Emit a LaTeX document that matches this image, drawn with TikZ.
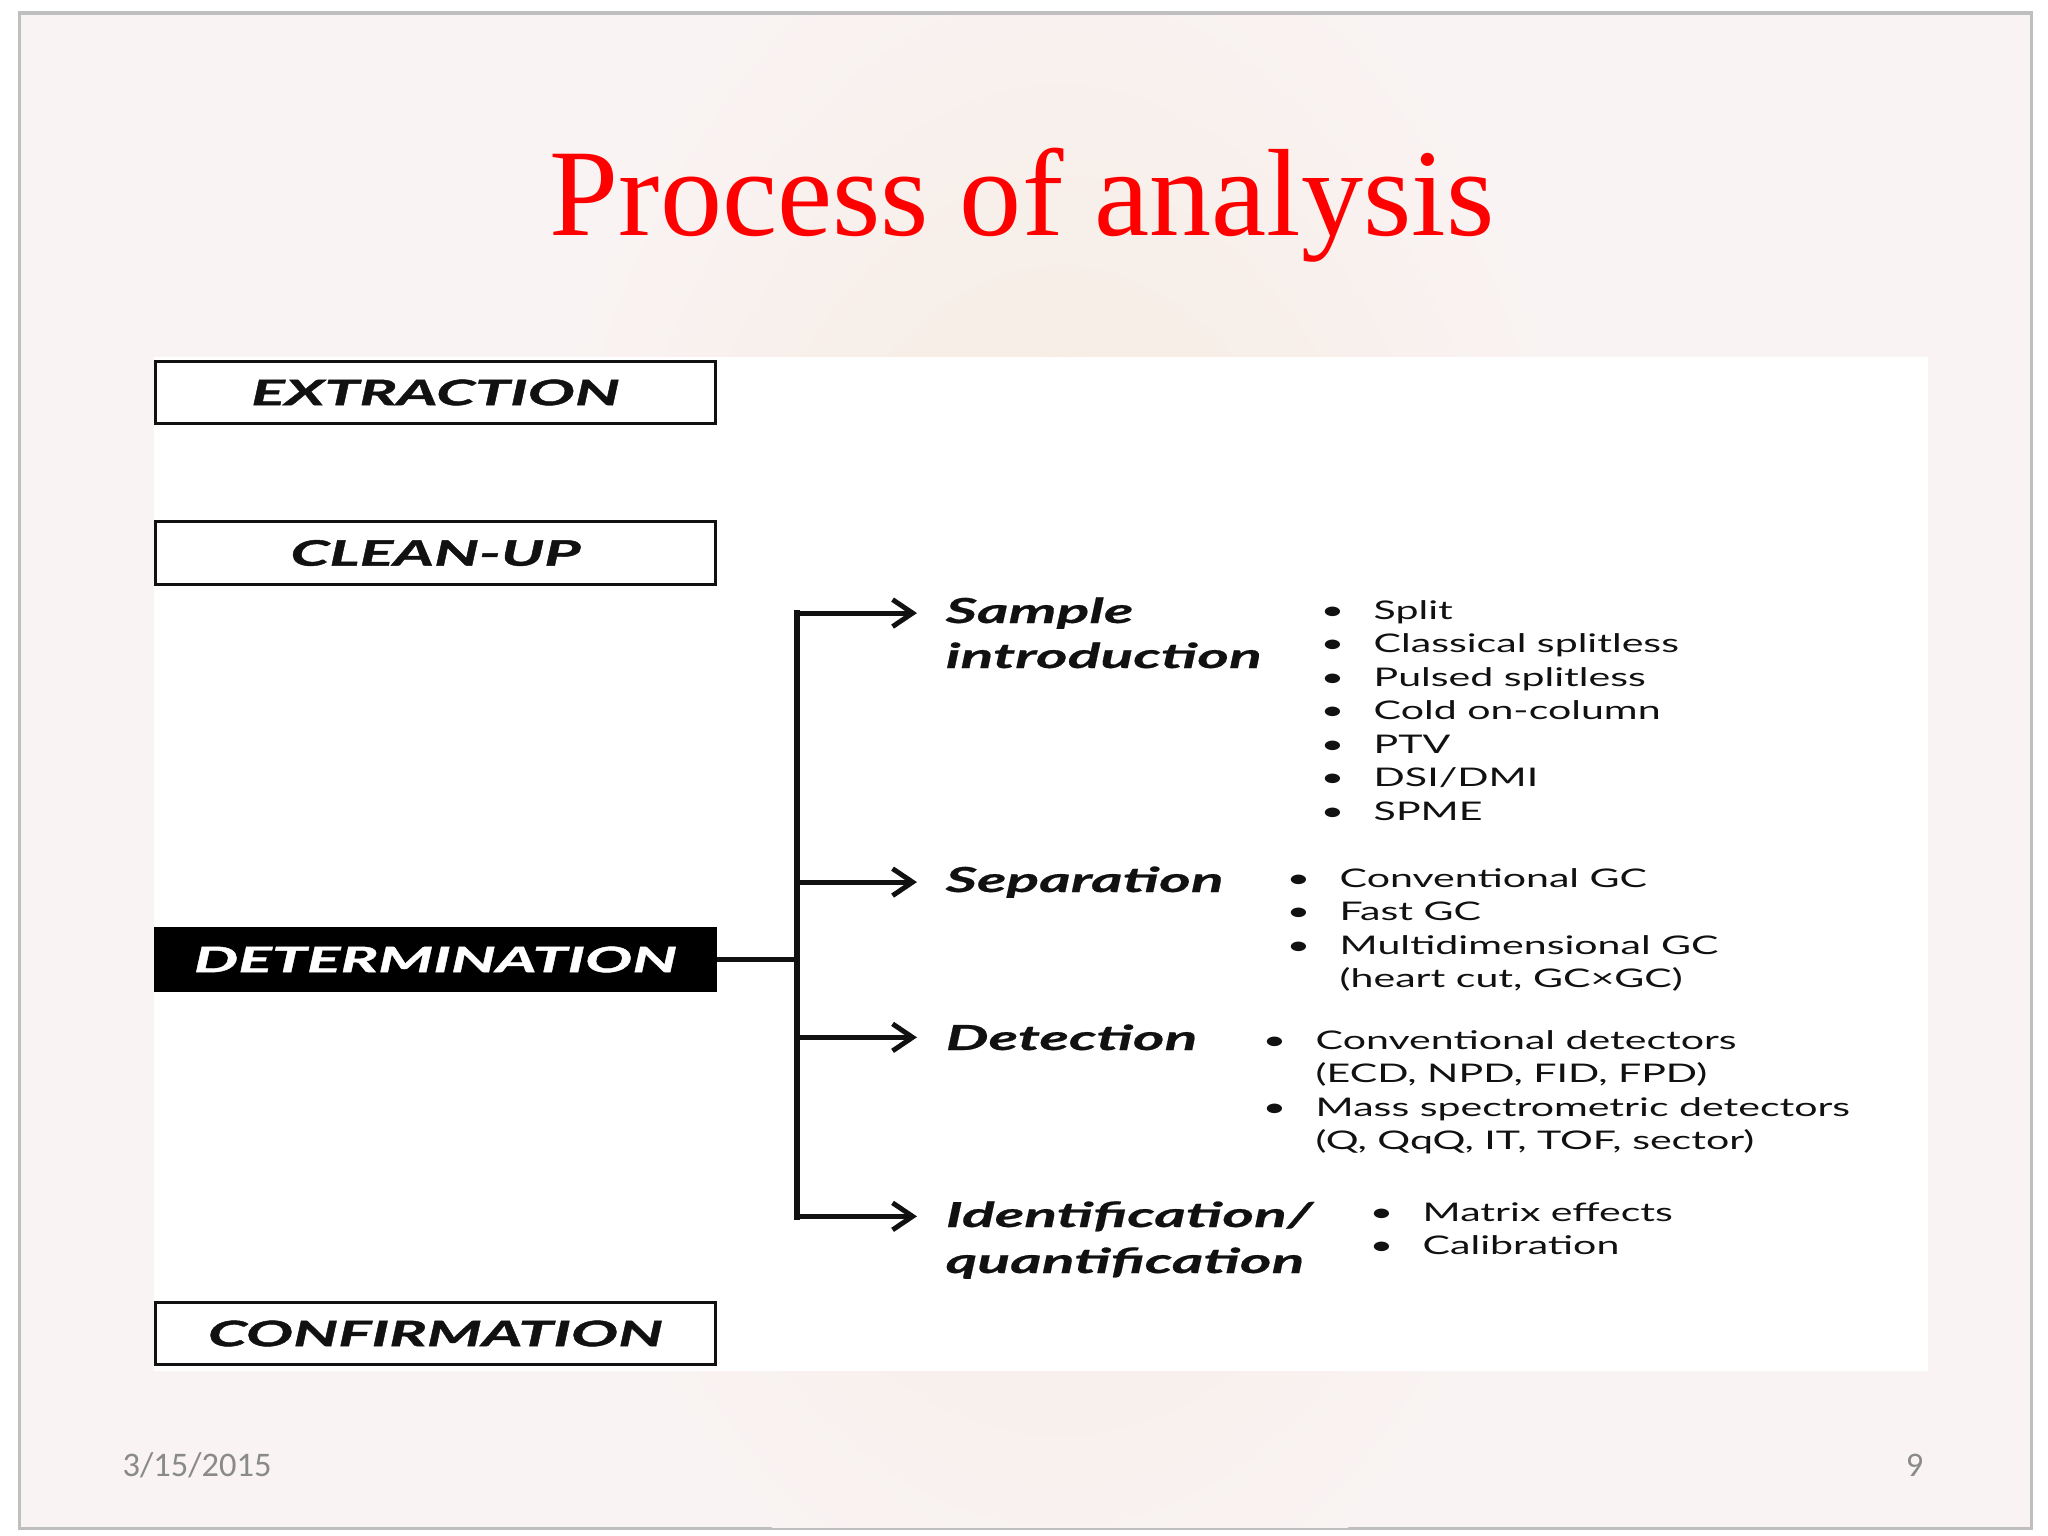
\documentclass[tikz,border=0pt]{standalone}
\usepackage{fontspec}
\usetikzlibrary{arrows.meta,calc}
\newfontfamily\gsfont[FakeStretch=1.6]{Lato}
\newfontfamily\boxfont[FakeStretch=1.79,FakeBold=1.2]{Lato}
\newfontfamily\headfont[FakeStretch=1.76,FakeBold=0.6]{Lato}
\newfontfamily\titfont{Liberation Serif}
\newfontfamily\footfont{Carlito}
\definecolor{slidebg}{HTML}{F9F3F3}
\definecolor{blob}{HTML}{F5E9DC}
\definecolor{titred}{HTML}{FF0000}
\definecolor{footgray}{HTML}{8A8A8A}
\definecolor{ink}{HTML}{111111}
\newcommand\bl{\makebox[0.45cm][l]{\hspace{-0.08cm}\textbullet}}
\tikzset{
 stagebox/.style={draw=ink, line width=0.85pt, fill=white, minimum width=5.6cm, minimum height=0.62cm, inner sep=0pt,
   font=\boxfont\fontsize{9.96}{12}\selectfont\bfseries\itshape, text=ink},
 darkbox/.style={stagebox, fill=black, draw=black, text=white},
 headtxt/.style={anchor=base west, inner sep=0pt, font=\headfont\fontsize{9.8}{11}\selectfont\bfseries\itshape, text=ink},
 listtxt/.style={anchor=base west, inner sep=0pt, font=\gsfont\fontsize{7.3}{9.55}\selectfont, text=ink},
 trunk/.style={draw=ink, line width=1.9pt, line cap=rect},
 link/.style={draw=ink, line width=1.4pt},
 branch/.style={link, shorten >=0.28cm, -{Straight Barb[length=0.2cm,width=0.27cm]}},
}
\begin{document}
\begin{tikzpicture}[x=0.01cm,y=-0.01cm]
\useasboundingbox (0,0) rectangle (2048,1536);
% page and slide background
\fill[white] (0,0) rectangle (2048,1536);
\fill[gray!50] (18,11) rectangle (2033,1530);
\fill[slidebg] (21,15) rectangle (2030,1527);
\begin{scope}
\clip (21,15) rectangle (2030,1527);
\shade[inner color=blob, outer color=slidebg] (1060,760) ellipse [x radius=5.5cm, y radius=9cm];
\end{scope}
% title
\node[font=\titfont\fontsize{35.3}{40}\selectfont, text=titred, anchor=base, inner sep=0pt] (title) at (1022,235) {Process of analysis};
% white panel
\fill[white] (154,357) rectangle (1928,1371);
% stage boxes
\node[stagebox] (ext) at (435.5,392.5) {EXTRACTION};
\node[stagebox] (clean) at (435.5,553) {CLEAN-UP};
\node[darkbox] (det) at (435.5,959.5) {DETERMINATION};
\node[stagebox] (conf) at (435.5,1333.5) {CONFIRMATION};
% headings
\node[headtxt] (hs1) at (945,623) {Sample};
\node[headtxt] (hs2) at (945,668) {introduction};
\node[headtxt] (hsep) at (945,892) {Separation};
\node[headtxt] (hdet) at (945,1050) {Detection};
\node[headtxt] (hid1) at (945,1227) {Identification/};
\node[headtxt] (hid2) at (945,1273) {quantification};
% lists
\node[listtxt] (ls) at (1328,619) {\begin{tabular}[t]{@{}l@{}l@{}}
\bl&Split\\ \bl&Classical splitless\\ \bl&Pulsed splitless\\ \bl&Cold on-column\\ \bl&PTV\\ \bl&DSI/DMI\\ \bl&SPME\end{tabular}};
\node[listtxt] (lsep) at (1294,887) {\begin{tabular}[t]{@{}l@{}l@{}}
\bl&Conventional GC\\ \bl&Fast GC\\ \bl&Multidimensional GC\\ &(heart cut, GC\texttimes GC)\end{tabular}};
\node[listtxt] (ldet) at (1270,1049) {\begin{tabular}[t]{@{}l@{}l@{}}
\bl&Conventional detectors\\ &(ECD, NPD, FID, FPD)\\ \bl&Mass spectrometric detectors\\ &(Q, QqQ, IT, TOF, sector)\end{tabular}};
\node[listtxt] (lid) at (1377,1221) {\begin{tabular}[t]{@{}l@{}l@{}}
\bl&Matrix effects\\ \bl&Calibration\end{tabular}};
% connectors
\coordinate (jn) at (797,959.5);
\draw[link] (det.east) -- (jn);
\draw[trunk] (hs1.west -| jn) -- (hid1.west -| jn);
\draw[branch] (hs1.west -| jn) -- (hs1.west);
\draw[branch] (hsep.west -| jn) -- (hsep.west);
\draw[branch] (hdet.west -| jn) -- (hdet.west);
\draw[branch] (hid1.west -| jn) -- (hid1.west);
% footer
\node[font=\footfont\fontsize{9.8}{12}\selectfont, text=footgray, anchor=base west, inner sep=0pt] (date) at (122,1476) {3/15/2015};
\node[font=\footfont\fontsize{9.8}{12}\selectfont, text=footgray, anchor=base east, inner sep=0pt] (pnum) at (1924,1476) {9};
\end{tikzpicture}
\end{document}
